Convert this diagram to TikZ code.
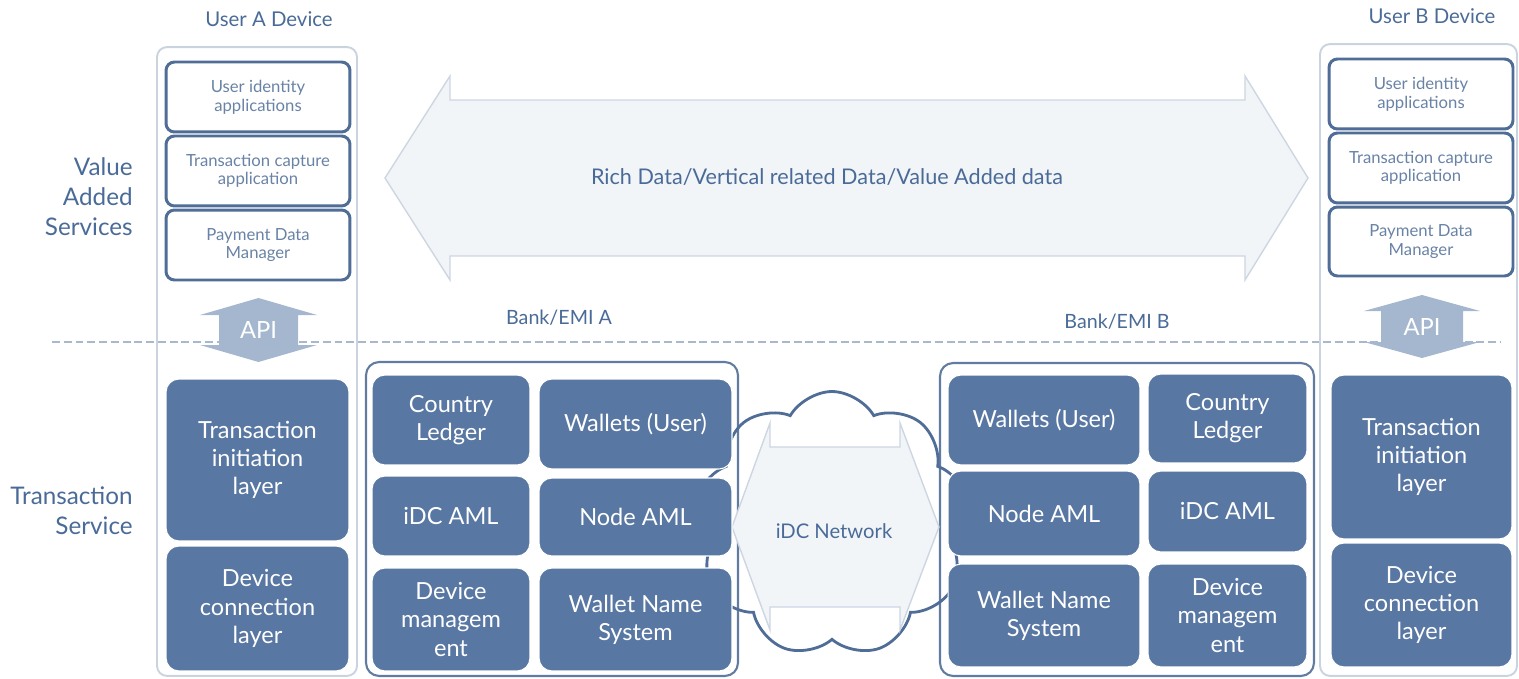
\documentclass[tikz,border=0pt]{standalone}
\usepackage{fontspec}
\setmainfont{Lato}
\usetikzlibrary{shapes.symbols}
\definecolor{darkfill}{HTML}{5877A2}
\definecolor{txtblue}{HTML}{4A6B98}
\definecolor{vasblue}{HTML}{4F6D96}
\definecolor{lightedge}{HTML}{CAD4E0}
\definecolor{apifill}{HTML}{A5B7CF}
\definecolor{arrowfill}{HTML}{F2F5F8}
\definecolor{arrowedge}{HTML}{CDD6E2}
\definecolor{dashcol}{HTML}{A9B9CD}
\begin{document}
\begin{tikzpicture}[x=0.02cm,y=-0.02cm,
  devbox/.style={draw=lightedge, line width=1.1pt, rounded corners=0.2cm, inner sep=0pt},
  vasbox/.style={draw=vasblue, fill=white, line width=1.7pt, rounded corners=0.17cm, align=center,
     text=vasblue!85, font=\fontsize{9.5}{10.6}\selectfont, inner sep=0pt},
  darkbox/.style={fill=darkfill, draw=white, line width=0.6pt, rounded corners=0.26cm, align=center,
     text=white, font=\fontsize{13.4}{16}\selectfont, inner sep=0pt},
  bankbox/.style={draw=vasblue!90, fill=white, line width=1.2pt, rounded corners=0.26cm, inner sep=0pt},
  lbl/.style={text=txtblue, font=\fontsize{13.8}{17}\selectfont, align=right, anchor=east, inner sep=0pt},
  ttl/.style={text=txtblue, font=\fontsize{11.6}{13}\selectfont},
  apiarrow/.style={fill=apifill, draw=none},
  bigarrow/.style={fill=arrowfill, draw=arrowedge, line width=0.8pt, line join=miter}
]
\useasboundingbox (0,0) rectangle (1519,679);

% titles
\node[ttl] (tA) at (269,19) {User A Device};
\node[ttl] (tB) at (1432,16) {User B Device};
\node[ttl, font=\fontsize{11.2}{13}\selectfont] (bA) at (559,318) {Bank/EMI A};
\node[ttl, font=\fontsize{11.2}{13}\selectfont] (bB) at (1117,322) {Bank/EMI B};

% side labels
\node[lbl] (vas) at (133,197) {Value\\Added\\Services};
\node[lbl] (ts) at (133,511) {Transaction\\Service};

% dashed separator
\coordinate (dl) at (52,342);
\coordinate (dr) at (1500,342);
\draw[dashcol, line width=1.1pt, dash pattern=on 4.5pt off 2.2pt] (dl) -- (dr);

% device outer boxes
\node[devbox, minimum width=4cm, minimum height=12.58cm] (devA) at (257,361.5) {};
\node[devbox, minimum width=3.94cm, minimum height=12.64cm] (devB) at (1418.5,360) {};

% big arrow
\filldraw[bigarrow] (385,178) -- (450,76) -- (450,100) -- (1245,100) -- (1245,76) -- (1308,178)
  -- (1245,280) -- (1245,256) -- (450,256) -- (450,280) -- cycle;
\node[text=txtblue, font=\fontsize{12.3}{14}\selectfont] (rich) at (827,177) {Rich Data/Vertical related Data/Value Added data};

% VAS boxes A
\node[vasbox, minimum width=3.68cm, minimum height=1.4cm] (uiA) at (258,97) {User identity\\applications};
\node[vasbox, minimum width=3.68cm, minimum height=1.4cm] (tcA) at (258,171) {Transaction capture\\application};
\node[vasbox, minimum width=3.68cm, minimum height=1.4cm] (pdA) at (258,245) {Payment Data\\Manager};
% VAS boxes B
\node[vasbox, minimum width=3.68cm, minimum height=1.4cm] (uiB) at (1421,94) {User identity\\applications};
\node[vasbox, minimum width=3.68cm, minimum height=1.4cm] (tcB) at (1421,168) {Transaction capture\\application};
\node[vasbox, minimum width=3.68cm, minimum height=1.38cm] (pdB) at (1421,241.5) {Payment Data\\Manager};

% API arrows
\filldraw[apiarrow] (258.5,298) -- (317,315) -- (298,315) -- (298,345) -- (317,345) -- (258.5,362)
  -- (200,345) -- (219,345) -- (219,315) -- (200,315) -- cycle;
\node[text=white, font=\fontsize{13.5}{15}\selectfont] (apiA) at (258.5,330) {API};
\filldraw[apiarrow] (1422,295) -- (1480,311) -- (1463,311) -- (1463,342) -- (1480,342) -- (1422,358)
  -- (1364,342) -- (1381,342) -- (1381,311) -- (1364,311) -- cycle;
\node[text=white, font=\fontsize{13.5}{15}\selectfont] (apiB) at (1422,327) {API};

% device layers
\node[darkbox, minimum width=3.66cm, minimum height=3.24cm] (tiA) at (257.5,460) {Transaction\\initiation\\layer};
\node[darkbox, minimum width=3.66cm, minimum height=2.5cm] (dcA) at (257.5,608.5) {Device\\connection\\layer};
\node[darkbox, minimum width=3.62cm, minimum height=3.28cm] (tiB) at (1421.5,457) {Transaction\\initiation\\layer};
\node[darkbox, minimum width=3.62cm, minimum height=2.48cm] (dcB) at (1421.5,605) {Device\\connection\\layer};

% bank outer boxes
\node[bankbox, minimum width=7.44cm, minimum height=6.28cm] (bankA) at (552,519) {};
\node[bankbox, minimum width=7.48cm, minimum height=6.26cm] (bankB) at (1127,519.5) {};

% cloud
\node[cloud, cloud puffs=9, cloud puff arc=120, aspect=1, draw=vasblue, line width=1.6pt,
      minimum width=5.5cm, minimum height=5.3cm] (cloud) at (832,524) {};

% network arrow
\filldraw[bigarrow] (732,527) -- (770,423) -- (770,447) -- (900,447) -- (900,423) -- (939,527)
  -- (900,630) -- (900,607) -- (770,607) -- (770,630) -- cycle;
\node[text=txtblue, font=\fontsize{11.5}{13}\selectfont] (net) at (834,531) {iDC Network};

% bank A inner
\node[darkbox, minimum width=3.16cm, minimum height=1.8cm] (clA) at (451,420) {Country\\Ledger};
\node[darkbox, minimum width=3.86cm, minimum height=1.8cm] (wuA) at (635.5,424) {Wallets (User)};
\node[darkbox, minimum width=3.16cm, minimum height=1.6cm] (iaA) at (451,516) {iDC AML};
\node[darkbox, minimum width=3.86cm, minimum height=1.56cm] (naA) at (635.5,517) {Node AML};
\node[darkbox, minimum width=3.16cm, minimum height=2.06cm] (dmA) at (451,619.5) {Device\\managem\\ent};
\node[darkbox, minimum width=3.86cm, minimum height=2.06cm] (wnA) at (635.5,619.5) {Wallet Name\\System};

% bank B inner
\node[darkbox, minimum width=3.84cm, minimum height=1.8cm] (wuB) at (1044,420) {Wallets (User)};
\node[darkbox, minimum width=3.18cm, minimum height=1.78cm] (clB) at (1227.5,418.5) {Country\\Ledger};
\node[darkbox, minimum width=3.84cm, minimum height=1.7cm] (naB) at (1044,513.5) {Node AML};
\node[darkbox, minimum width=3.18cm, minimum height=1.62cm] (iaB) at (1227.5,511.5) {iDC AML};
\node[darkbox, minimum width=3.84cm, minimum height=2.06cm] (wnB) at (1044,615.5) {Wallet Name\\System};
\node[darkbox, minimum width=3.18cm, minimum height=2.06cm] (dmB) at (1227.5,615.5) {Device\\managem\\ent};
\end{tikzpicture}
\end{document}
